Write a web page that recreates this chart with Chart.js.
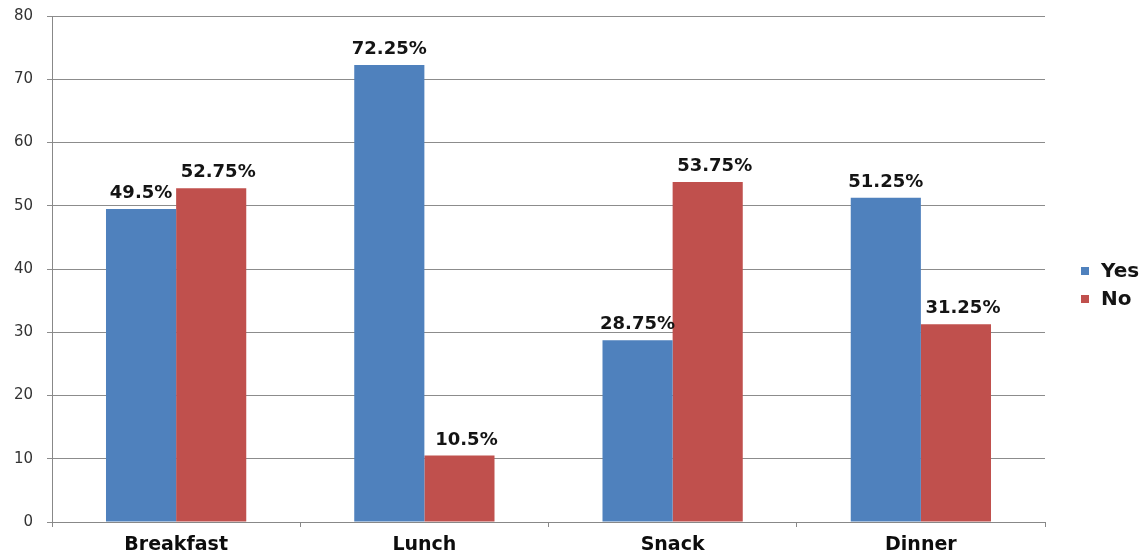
<!DOCTYPE html>
<html>
<head>
<meta charset="utf-8">
<script src="https://cdn.jsdelivr.net/npm/chart.js@4/dist/chart.umd.min.js"></script>
<style>
html,body{margin:0;padding:0;background:#fff;}
#wrap{width:1148px;height:556px;position:relative;}
</style>
</head>
<body>
<div id="wrap"><canvas id="c" width="1148" height="556"></canvas></div>
<script>
const categories = ["Breakfast", "Lunch", "Snack", "Dinner"];
const yesValues = [49.5, 72.25, 28.75, 51.25];
const noValues = [52.75, 10.5, 53.75, 31.25];
const seriesNames = ["Yes", "No"];
const yTicks = [0, 10, 20, 30, 40, 50, 60, 70, 80];

const FONT = "'DejaVu Sans', Verdana, sans-serif";
const labelShift = [0, 7];

const valueLabels = {
  id: 'valueLabels',
  afterDatasetsDraw(chart) {
    const ctx = chart.ctx;
    ctx.save();
    ctx.font = "bold 18px " + FONT;
    ctx.fillStyle = "#141414";
    ctx.textAlign = "center";
    ctx.textBaseline = "alphabetic";
    chart.data.datasets.forEach((ds, i) => {
      const meta = chart.getDatasetMeta(i);
      meta.data.forEach((bar, j) => {
        ctx.fillText(ds.data[j] + "%", bar.x + labelShift[i], bar.y - 11);
      });
    });
    ctx.restore();
  }
};

const sideLegend = {
  id: 'sideLegend',
  afterDraw(chart) {
    const ctx = chart.ctx;
    ctx.save();
    ctx.font = "bold 20px " + FONT;
    ctx.textBaseline = "middle";
    ctx.textAlign = "left";
    const ys = [271, 299];
    chart.data.datasets.forEach((ds, i) => {
      ctx.fillStyle = ds.backgroundColor;
      ctx.fillRect(1081, ys[i] - 4, 8, 8);
      ctx.fillStyle = "#141414";
      ctx.fillText(ds.label, 1101, ys[i] + 1);
    });
    ctx.restore();
  }
};

new Chart(document.getElementById('c'), {
  type: 'bar',
  data: {
    labels: categories,
    datasets: [
      { label: seriesNames[0], data: yesValues, backgroundColor: "#4f81bd", categoryPercentage: 0.565, barPercentage: 1.0 },
      { label: seriesNames[1], data: noValues, backgroundColor: "#c0504d", categoryPercentage: 0.565, barPercentage: 1.0 }
    ]
  },
  options: {
    responsive: false,
    animation: false,
    devicePixelRatio: 1,
    layout: { padding: { top: 16, right: 103, left: 0, bottom: 0 } },
    plugins: {
      legend: { display: false },
      tooltip: { enabled: false }
    },
    scales: {
      x: {
        grid: { display: true, drawOnChartArea: false, drawTicks: true, tickLength: 5, offset: true, color: "#888" },
        border: { display: true, color: "#888", width: 1 },
        ticks: { color: "#0d0d0d", font: { family: FONT, size: 19, weight: 'bold' }, padding: 7 },
        afterFit(scale) { scale.height = 34; }
      },
      y: {
        min: 0, max: 80,
        afterBuildTicks(scale) { scale.ticks = yTicks.map(v => ({ value: v })); },
        grid: { color: "#8c8c8c", tickLength: 5, lineWidth: 1 },
        border: { display: true, color: "#888", width: 1 },
        ticks: { color: "#333", font: { family: FONT, size: 15 }, padding: 14 },
        afterFit(scale) { scale.width = 52; scale.paddingTop = 0; scale.paddingBottom = 0; }
      }
    }
  },
  plugins: [valueLabels, sideLegend]
});
</script>
</body>
</html>
